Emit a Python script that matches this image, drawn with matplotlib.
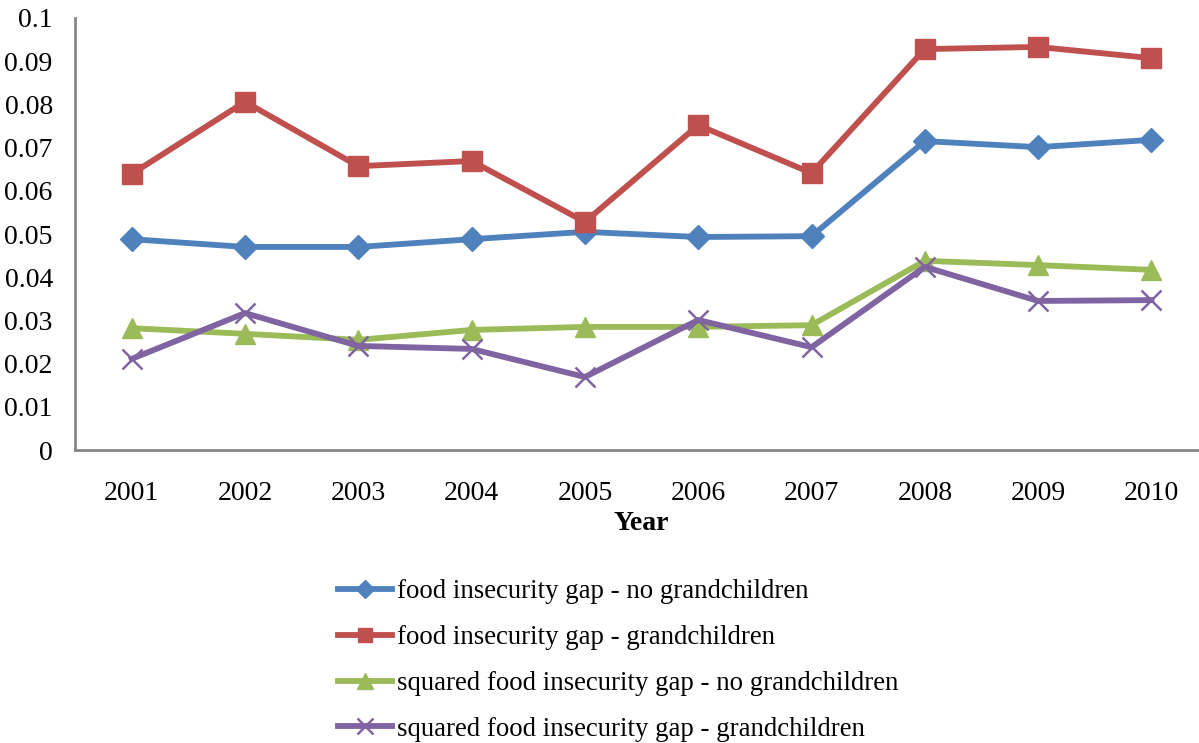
import matplotlib.pyplot as plt
import numpy as np

plt.rcParams['font.family'] = ['Liberation Serif', 'DejaVu Serif']

years = [2001, 2002, 2003, 2004, 2005, 2006, 2007, 2008, 2009, 2010]
gap_no_gc = [0.0488, 0.0470, 0.0470, 0.0488, 0.0505, 0.0493, 0.0495, 0.0715, 0.0701, 0.0718]
gap_gc = [0.0639, 0.0806, 0.0657, 0.0669, 0.0528, 0.0752, 0.0641, 0.0928, 0.0933, 0.0907]
sq_gap_no_gc = [0.0282, 0.0269, 0.0255, 0.0278, 0.0285, 0.0285, 0.0289, 0.0438, 0.0428, 0.0417]
sq_gap_gc = [0.0211, 0.0317, 0.0241, 0.0234, 0.0169, 0.0301, 0.0238, 0.0424, 0.0345, 0.0347]

labels = ["food insecurity gap - no grandchildren",
          "food insecurity gap - grandchildren",
          "squared food insecurity gap - no grandchildren",
          "squared food insecurity gap - grandchildren"]

fig = plt.figure(figsize=(11.99, 7.43), dpi=100)
ax = fig.add_axes([0.0626, 0.3943, 0.945, 0.5815])

x = np.arange(len(years))
ax.plot(x, gap_no_gc, color="#4F81BD", lw=4.2, marker="D", ms=12, label=labels[0])
ax.plot(x, gap_gc, color="#C0504D", lw=4.2, marker="s", ms=14, label=labels[1])
ax.plot(x, sq_gap_no_gc, color="#9BBB59", lw=4.2, marker="^", ms=15, label=labels[2])
ax.plot(x, sq_gap_gc, color="#8064A2", lw=4.2, marker="x", ms=15, mew=1.8, label=labels[3])

ax.set_xlim(-0.5, len(years) - 0.5)
ax.set_ylim(0, 0.1)
ax.set_xticks(x)
ax.set_xticklabels([str(y) for y in years])
ax.set_yticks(np.arange(0, 0.101, 0.01))
ax.set_yticklabels(["0"] + ["%.2f" % v for v in np.arange(0.01, 0.1, 0.01)] + ["0.1"])
ax.tick_params(length=0, labelsize=20)
ax.tick_params(axis='x', pad=22)
ax.tick_params(axis='y', pad=16)

for s in ["top", "right"]:
    ax.spines[s].set_visible(False)
for s in ["left", "bottom"]:
    ax.spines[s].set_color("#868686")
    ax.spines[s].set_linewidth(2)

ax.set_xlabel("Year", fontsize=20, fontweight="bold", labelpad=4)

fig.legend(loc="upper left", bbox_to_anchor=(0.273, 0.235), frameon=False,
           fontsize=19.3, handlelength=2.0, labelspacing=0.78, handletextpad=0.2,
           borderaxespad=0, markerscale=0.75)

fig.savefig("out.png", dpi=100)
